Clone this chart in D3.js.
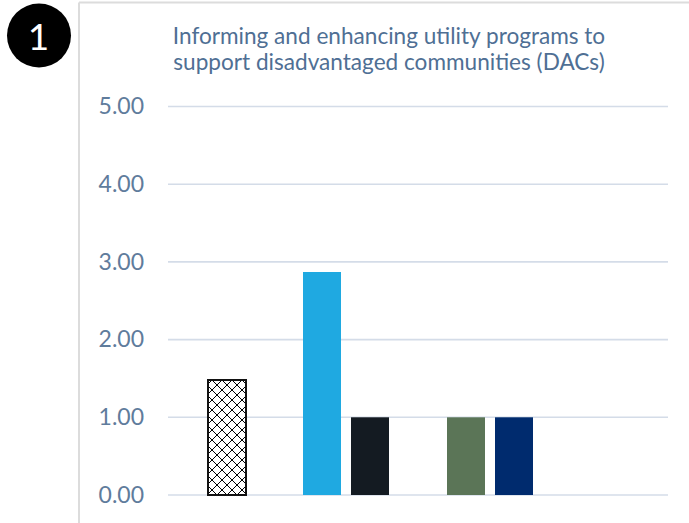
<!DOCTYPE html>
<html>
<head>
<meta charset="utf-8">
<script src="https://cdn.jsdelivr.net/npm/d3@7"></script>
<style>
  html, body { margin: 0; padding: 0; background: #ffffff; }
  svg { display: block; }
</style>
</head>
<body>
<div id="chart"></div>
<script>
// Series shown in the single category; empty slots have no value
const seriesNames = ["S1", "S2", "S3", "S4", "S5", "S6", "S7", "S8", "S9"];
const seriesValues = [1.48, null, 2.87, 1.00, null, 1.00, 1.00, null, null];
const seriesFills = ["hatch", null, "#1fa9e1", "#141b22", null, "#5b7557", "#002b6e", null, null];
const yTicks = [0, 1, 2, 3, 4, 5];
const titleLines = [
  "Informing and enhancing utility programs to",
  "support disadvantaged communities (DACs)"
];
const badgeLabel = "1";

const W = 689, H = 523;
const plot = { left: 168, right: 668, top: 106.5, bottom: 495 };
const FONT = "Lato, 'Open Sans', sans-serif";

const svg = d3.select("#chart").append("svg")
  .attr("width", W).attr("height", H);

// Cross-hatch fill for the first series
const defs = svg.append("defs");
const pat = defs.append("pattern")
  .attr("id", "hatch")
  .attr("patternUnits", "userSpaceOnUse")
  .attr("x", 2).attr("y", 0)
  .attr("width", 10).attr("height", 10);
pat.append("rect").attr("width", 10).attr("height", 10).attr("fill", "#ffffff");
pat.append("path")
  .attr("d", "M0,0 L10,10 M10,0 L0,10")
  .attr("stroke", "#000000").attr("stroke-width", 1);

// Panel frame (top and left edges)
svg.append("line")
  .attr("x1", 79).attr("x2", W).attr("y1", 2.5).attr("y2", 2.5)
  .attr("stroke", "#dcdcdc").attr("stroke-width", 2);
svg.append("line")
  .attr("x1", 79).attr("x2", 79).attr("y1", 2.5).attr("y2", H)
  .attr("stroke", "#dcdcdc").attr("stroke-width", 2);

// Numbered badge
svg.append("circle")
  .attr("cx", 39).attr("cy", 35.5).attr("r", 32)
  .attr("fill", "#000000");
svg.append("text")
  .attr("x", 38.5).attr("y", 35)
  .attr("text-anchor", "middle")
  .attr("dominant-baseline", "central")
  .attr("font-family", FONT)
  .attr("font-size", 37)
  .attr("fill", "#ffffff")
  .text(badgeLabel);

// Title
const title = svg.append("text")
  .attr("text-anchor", "middle")
  .attr("font-family", FONT)
  .attr("font-size", 22.6)
  .attr("fill", "#4f6f94");
titleLines.forEach((line, i) => {
  title.append("tspan")
    .attr("x", 389)
    .attr("y", 43.5 + i * 26.5)
    .text(line);
});

// Scales
const x = d3.scaleBand()
  .domain(seriesNames)
  .range([plot.left, plot.right])
  .paddingInner(10 / 48)
  .paddingOuter(0.8125);

const y = d3.scaleLinear()
  .domain([0, 5])
  .range([plot.bottom, plot.top]);

// Gridlines
svg.append("g")
  .selectAll("line")
  .data(yTicks)
  .join("line")
  .attr("x1", plot.left).attr("x2", plot.right)
  .attr("y1", d => y(d)).attr("y2", d => y(d))
  .attr("stroke", "#d4dce8")
  .attr("stroke-width", 1.6);

// Y axis labels
const yAxis = d3.axisLeft(y)
  .tickValues(yTicks)
  .tickFormat(d3.format(".2f"))
  .tickSize(0)
  .tickPadding(0);
const gy = svg.append("g")
  .attr("transform", `translate(${144},0)`)
  .call(yAxis);
gy.select(".domain").remove();
gy.selectAll("text")
  .attr("font-family", FONT)
  .attr("font-size", 23)
  .attr("fill", "#5f7c9c");

// Bars
const barData = seriesNames
  .map((name, i) => ({ name, value: seriesValues[i], fill: seriesFills[i] }))
  .filter(d => d.value != null);

svg.append("g")
  .selectAll("rect")
  .data(barData)
  .join("rect")
  .attr("x", d => d.fill === "hatch" ? x(d.name) + 1 : x(d.name))
  .attr("width", x.bandwidth())
  .attr("y", d => y(d.value))
  .attr("height", d => y(0) - y(d.value))
  .attr("fill", d => d.fill === "hatch" ? "url(#hatch)" : d.fill)
  .attr("stroke", d => d.fill === "hatch" ? "#111111" : "none")
  .attr("stroke-width", d => d.fill === "hatch" ? 2 : 0);
</script>
</body>
</html>
